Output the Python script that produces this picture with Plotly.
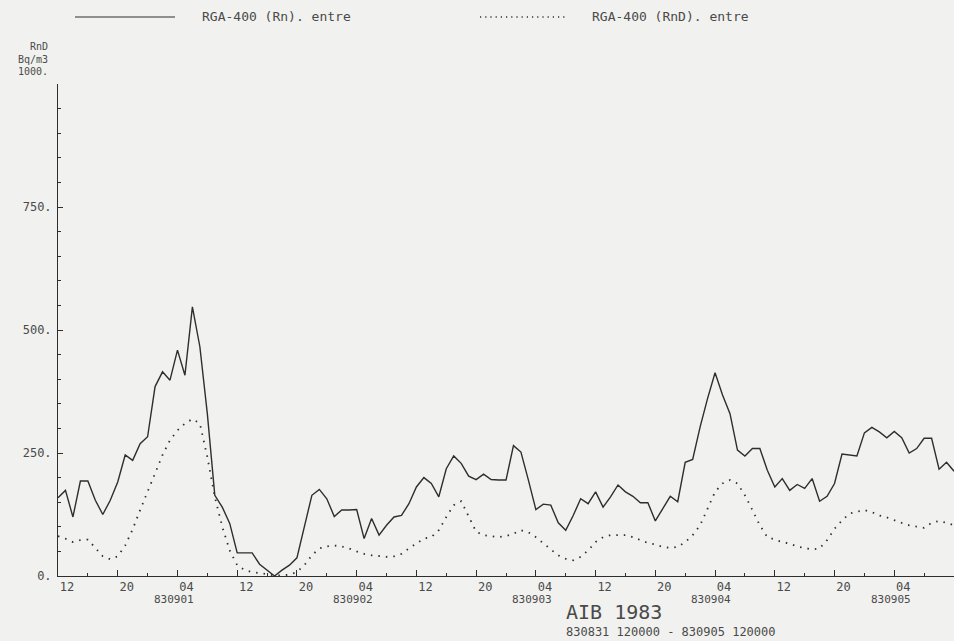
import plotly.graph_objects as go

# Hourly radon readings, 830831 12:00 -> 830905 12:00 (hour offsets 0..120)
hours = list(range(121))

rn = [
    159, 174, 120, 193, 193, 154, 125, 154, 191, 246,
    235, 269, 283, 385, 415, 398, 459, 408, 547, 466,
    330, 164, 140, 107, 47, 47, 47, 24, 12, 0,
    12, 22, 37, 100, 164, 176, 157, 121, 134, 134,
    135, 76, 117, 83, 103, 120, 123, 147, 181, 200,
    188, 161, 218, 244, 229, 203, 196, 207, 196, 195,
    195, 265, 252, 195, 135, 146, 144, 108, 93, 123,
    157, 147, 171, 140, 161, 185, 171, 162, 149, 149,
    112, 137, 162, 151, 231, 237, 303, 361, 413, 368,
    330, 256, 244, 259, 259, 215, 181, 198, 174, 186,
    178, 198, 152, 162, 188, 248, 246, 244, 291, 302,
    293, 281, 294, 281, 250, 259, 280, 280, 217, 231,
    213,
]

rnd = [
    81, 76, 69, 73, 74, 58, 40, 34, 40, 62,
    95, 134, 171, 208, 246, 276, 296, 310, 319, 310,
    242, 161, 100, 52, 22, 12, 8, 6, 3, 1,
    1, 3, 8, 22, 42, 56, 60, 62, 60, 56,
    50, 45, 42, 40, 39, 40, 45, 56, 66, 76,
    79, 93, 120, 144, 152, 120, 90, 83, 81, 79,
    81, 86, 93, 89, 79, 66, 54, 42, 35, 32,
    39, 52, 69, 79, 83, 83, 83, 79, 73, 67,
    64, 59, 57, 59, 69, 83, 103, 137, 171, 188,
    195, 188, 164, 134, 103, 79, 74, 69, 66, 60,
    57, 54, 56, 73, 96, 113, 127, 130, 134, 130,
    123, 119, 113, 108, 103, 100, 98, 108, 112, 108,
    103,
]

x_tickvals = [0, 8, 16, 24, 32, 40, 48, 56, 64, 72, 80, 88, 96, 104, 112]
x_ticktext = ["12", "20", "04", "12", "20", "04", "12", "20",
              "04", "12", "20", "04", "12", "20", "04"]
day_hours = [16, 40, 64, 88, 112]
day_labels = ["830901", "830902", "830903", "830904", "830905"]
y_tickvals = [0, 250, 500, 750, 1000]
y_ticktext = ["0.", "250.", "500.", "750.", ""]
y_top_label = "1000."

series_names = ["RGA-400 (Rn). entre", "RGA-400 (RnD). entre"]

INK = "#2e2e2e"
TXT = "#4a4a4a"
PAPER = "#f1f1ef"
MONO = "DejaVu Sans Mono"

W, H = 954, 641
ML, MR, MT, MB = 58, 0, 84, 65
PW, PH = W - ML - MR, H - MT - MB


def px(xp):
    return (xp - ML) / PW


def py(yp):
    return (H - MB - yp) / PH


fig = go.Figure()
fig.add_trace(go.Scatter(
    x=hours, y=rn, mode="lines", name=series_names[0],
    line=dict(color=INK, width=1.4), showlegend=False,
))
fig.add_trace(go.Scatter(
    x=hours, y=rnd, mode="lines", name=series_names[1],
    line=dict(color=INK, width=1.8, dash="1.5px,6px"), showlegend=False,
))

fig.update_layout(
    width=W, height=H,
    margin=dict(l=ML, r=MR, t=MT, b=MB, pad=0),
    paper_bgcolor=PAPER, plot_bgcolor=PAPER,
    font=dict(family=MONO, size=12, color=TXT),
    xaxis=dict(
        range=[0, 120], showgrid=False, zeroline=False,
        showline=True, linecolor=INK, linewidth=1,
        tickvals=x_tickvals, ticktext=x_ticktext,
        ticks="inside", ticklen=6, tickwidth=1, tickcolor=INK,
        minor=dict(tickvals=[v + 4 for v in x_tickvals], ticks="inside",
                   ticklen=3, tickwidth=1, tickcolor=INK),
        tickfont=dict(family=MONO, size=12, color=TXT),
        ticklabelshift=9, ticklabelstandoff=0,
    ),
    yaxis=dict(
        range=[0, 1000], showgrid=False, zeroline=False,
        showline=True, linecolor=INK, linewidth=1,
        tickvals=y_tickvals, ticktext=y_ticktext,
        ticks="inside", ticklen=5, tickwidth=1, tickcolor=INK,
        minor=dict(dtick=50, tick0=0, ticks="inside", ticklen=3,
                   tickwidth=1, tickcolor=INK),
        tickfont=dict(family=MONO, size=12, color=TXT),
        ticklabelstandoff=3,
    ),
)

# Day stamps under each 04h tick
for h, lab in zip(day_hours, day_labels):
    fig.add_annotation(
        x=h - 0.5, xref="x", y=py(599), yref="paper", text=lab,
        showarrow=False, xanchor="center", yanchor="middle",
        font=dict(family=MONO, size=11, color=TXT),
    )

# Legend keys along the top edge
fig.add_shape(type="line", xref="paper", yref="paper",
              x0=px(75), x1=px(175), y0=py(17), y1=py(17),
              line=dict(color=INK, width=1.2))
fig.add_shape(type="line", xref="paper", yref="paper",
              x0=px(480), x1=px(565), y0=py(17), y1=py(17),
              line=dict(color=INK, width=1.6, dash="1.2px,4px"))

notes = [
    (px(200), py(17), series_names[0], "left", 13),
    (px(590), py(17), series_names[1], "left", 13),
    (px(50), py(46), "RnD", "right", 10),
    (px(50), py(59), "Bq/m3", "right", 10),
    (px(50), py(72), y_top_label, "right", 10),
    (px(564), py(612), "AIB 1983", "left", 20),
]
for x, y, t, anchor, size in notes:
    fig.add_annotation(
        x=x, y=y, xref="paper", yref="paper", text=t, showarrow=False,
        xanchor=anchor, yanchor="middle",
        font=dict(family=MONO, size=size, color=TXT),
    )

fig.add_annotation(
    x=px(564), y=0 - MB / PH, xref="paper", yref="paper",
    text="830831 120000 - 830905 120000", showarrow=False,
    xanchor="left", yanchor="bottom",
    font=dict(family=MONO, size=12, color=TXT),
)

fig.write_html("out.html")
